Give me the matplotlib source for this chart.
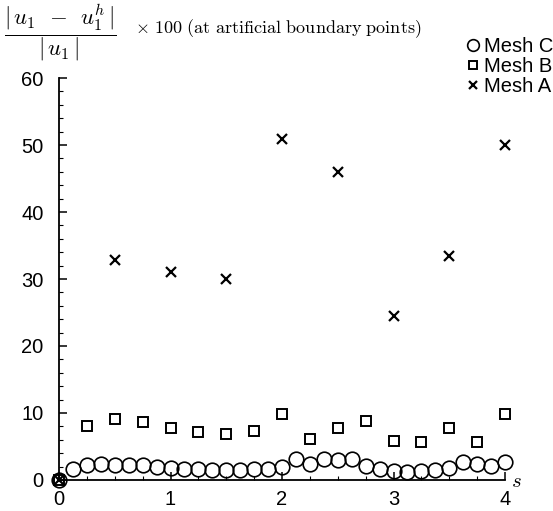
import numpy as np
import matplotlib.pyplot as plt
from matplotlib.ticker import MultipleLocator

plt.rcParams['mathtext.fontset'] = 'cm'
plt.rcParams['font.family'] = ['Liberation Sans', 'DejaVu Sans']

# ── Data (relative error x 100 at artificial boundary points) ───────────────
s_a = [0.0, 0.5, 1.0, 1.5, 2.0, 2.5, 3.0, 3.5, 4.0]
err_a = [0.0, 32.8, 31.0, 30.0, 50.9, 45.9, 24.5, 33.5, 50.0]

s_b = [0.0, 0.25, 0.5, 0.75, 1.0, 1.25, 1.5, 1.75, 2.0,
       2.25, 2.5, 2.75, 3.0, 3.25, 3.5, 3.75, 4.0]
err_b = [0.0, 8.1, 9.1, 8.6, 7.8, 7.1, 6.9, 7.3, 9.9,
         6.1, 7.7, 8.8, 5.8, 5.7, 7.8, 5.6, 9.9]

s_c = [0.0, 0.125, 0.25, 0.375, 0.5, 0.625, 0.75, 0.875, 1.0,
       1.125, 1.25, 1.375, 1.5, 1.625, 1.75, 1.875, 2.0,
       2.125, 2.25, 2.375, 2.5, 2.625, 2.75, 2.875, 3.0,
       3.125, 3.25, 3.375, 3.5, 3.625, 3.75, 3.875, 4.0]
err_c = [0.0, 1.7, 2.2, 2.4, 2.3, 2.2, 2.2, 2.0, 1.85,
         1.7, 1.6, 1.55, 1.55, 1.55, 1.6, 1.7, 1.9,
         3.1, 2.4, 3.2, 3.0, 3.1, 2.1, 1.6, 1.35,
         1.25, 1.35, 1.5, 1.8, 2.7, 2.4, 2.1, 2.7]

# ── Plot ─────────────────────────────────────────────────────────────────────
fig = plt.figure(figsize=(5.53, 5.11), dpi=100)
ax = fig.add_axes([0.1067, 0.0607, 0.8066, 0.7866])

ax.plot(s_c, err_c, linestyle='none', marker='o', markersize=10.5,
        markerfacecolor='none', markeredgecolor='black', markeredgewidth=1.2,
        clip_on=False, label='Mesh C')
ax.plot(s_b, err_b, linestyle='none', marker='s', markersize=6.5,
        markerfacecolor='none', markeredgecolor='black', markeredgewidth=1.4,
        clip_on=False, label='Mesh B')
ax.plot(s_a, err_a, linestyle='none', marker='x', markersize=7,
        markeredgecolor='black', markeredgewidth=1.6,
        clip_on=False, label='Mesh A')

ax.set_xlim(0, 4)
ax.set_ylim(0, 60)
ax.spines['top'].set_visible(False)
ax.spines['right'].set_visible(False)
for sp in ('left', 'bottom'):
    ax.spines[sp].set_linewidth(1.3)

ax.xaxis.set_major_locator(MultipleLocator(1))
ax.xaxis.set_minor_locator(MultipleLocator(0.25))
ax.yaxis.set_major_locator(MultipleLocator(10))
ax.yaxis.set_minor_locator(MultipleLocator(2))
ax.tick_params(which='major', direction='in', length=6, width=1.1,
               labelsize=14.5)
ax.tick_params(axis='y', which='major', pad=11)
ax.tick_params(axis='x', which='major', pad=7)
ax.tick_params(which='minor', direction='in', length=3, width=0.8)

ax.text(4.05, -0.3, r'$s$', fontsize=15, ha='left', va='center')

# title: fraction and the rest as two pieces
fig.text(0.008, 0.936, r'$\dfrac{|\,u_1 \;\,-\;\, u_1^h\,|}{|\,u_1\,|}$',
         fontsize=16.5, ha='left', va='center')
fig.text(0.245, 0.943,
         r'$\times\ 100\ \mathrm{(at\ artificial\ boundary\ points)}$',
         fontsize=13, ha='left', va='center')

ax.legend(loc='upper right', bbox_to_anchor=(1.0, 0.927),
          bbox_transform=fig.transFigure, frameon=False, fontsize=14.5,
          handlelength=0.6, handletextpad=0.25, labelspacing=0.05,
          borderaxespad=0, borderpad=0, markerscale=0.8)

plt.savefig('out.png', dpi=100)
